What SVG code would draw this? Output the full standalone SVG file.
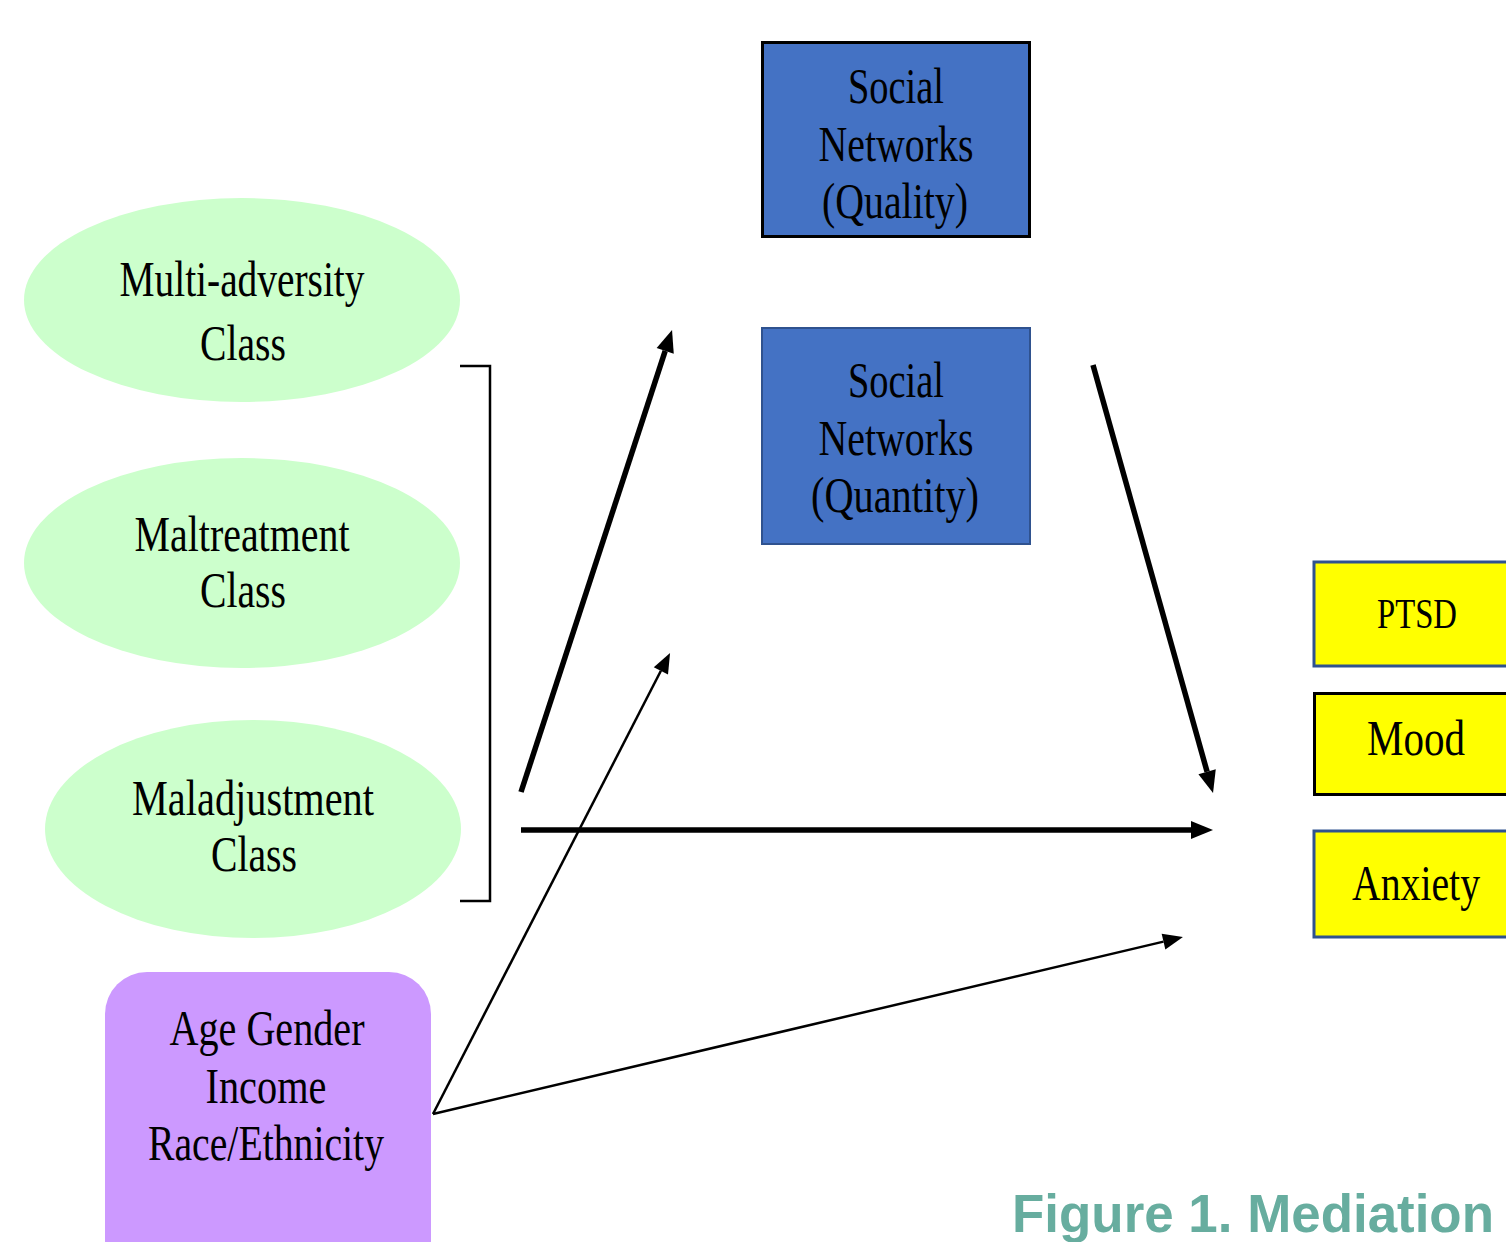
<svg xmlns="http://www.w3.org/2000/svg" width="1506" height="1242" viewBox="0 0 1506 1242">
<style>
.t{font-family:"Liberation Serif","Times New Roman",serif;font-size:50px;fill:#000;text-anchor:middle}
.ell{fill:#CCFFCC}
.blue{fill:#4472C4}
.yel{fill:#FFFF00}
.thick{stroke:#000;stroke-width:5.5;fill:none}
.thin{stroke:#000;stroke-width:2.5;fill:none}
</style>
<defs>
<marker id="hk" markerUnits="userSpaceOnUse" markerWidth="24" markerHeight="20" refX="0" refY="9" orient="auto" overflow="visible"><path d="M0,0 L22,9 L0,18 z" fill="#000"/></marker>
<marker id="hn" markerUnits="userSpaceOnUse" markerWidth="22" markerHeight="18" refX="0" refY="8" orient="auto" overflow="visible"><path d="M0,0 L20,8 L0,16 z" fill="#000"/></marker>
</defs>
<rect width="1506" height="1242" fill="#fff"/>
<g id="multi-adversity">
<ellipse class="ell" cx="242" cy="300" rx="218" ry="102"/>
<text class="t" x="242" y="296" textLength="245" lengthAdjust="spacingAndGlyphs">Multi-adversity</text>
<text class="t" x="243" y="360" textLength="86" lengthAdjust="spacingAndGlyphs">Class</text>
</g>
<g id="maltreatment">
<ellipse class="ell" cx="242" cy="563" rx="218" ry="105"/>
<text class="t" x="242" y="551" textLength="215" lengthAdjust="spacingAndGlyphs">Maltreatment</text>
<text class="t" x="243" y="607" textLength="86" lengthAdjust="spacingAndGlyphs">Class</text>
</g>
<g id="maladjustment">
<ellipse class="ell" cx="253" cy="829" rx="208" ry="109"/>
<text class="t" x="253" y="815" textLength="242" lengthAdjust="spacingAndGlyphs">Maladjustment</text>
<text class="t" x="254" y="871" textLength="86" lengthAdjust="spacingAndGlyphs">Class</text>
</g>
<g id="covariates">
<rect x="105" y="972" width="326" height="310" rx="42" fill="#CC99FF"/>
<text class="t" x="267" y="1045" textLength="195" lengthAdjust="spacingAndGlyphs">Age Gender</text>
<text class="t" x="266" y="1103" textLength="121" lengthAdjust="spacingAndGlyphs">Income</text>
<text class="t" x="266" y="1160" textLength="236" lengthAdjust="spacingAndGlyphs">Race/Ethnicity</text>
</g>
<g id="sn-quality">
<rect class="blue" x="762.5" y="42.5" width="267" height="194" stroke="#000" stroke-width="3"/>
<text class="t" x="896" y="103" textLength="96" lengthAdjust="spacingAndGlyphs">Social</text>
<text class="t" x="896" y="161" textLength="155" lengthAdjust="spacingAndGlyphs">Networks</text>
<text class="t" x="895" y="218" textLength="146" lengthAdjust="spacingAndGlyphs">(Quality)</text>
</g>
<g id="sn-quantity">
<rect class="blue" x="762" y="328" width="268" height="216" stroke="#2F528F" stroke-width="2"/>
<text class="t" x="896" y="397" textLength="96" lengthAdjust="spacingAndGlyphs">Social</text>
<text class="t" x="896" y="455" textLength="155" lengthAdjust="spacingAndGlyphs">Networks</text>
<text class="t" x="895" y="512" textLength="168" lengthAdjust="spacingAndGlyphs">(Quantity)</text>
</g>
<g id="ptsd">
<rect class="yel" x="1314" y="562" width="196" height="104" stroke="#2F528F" stroke-width="3"/>
<text class="t" x="1417" y="628" style="font-size:42px" textLength="80" lengthAdjust="spacingAndGlyphs">PTSD</text>
</g>
<g id="mood">
<rect class="yel" x="1314.5" y="693.5" width="196" height="101" stroke="#000" stroke-width="3"/>
<text class="t" x="1416" y="755" textLength="98" lengthAdjust="spacingAndGlyphs">Mood</text>
</g>
<g id="anxiety">
<rect class="yel" x="1314" y="831" width="196" height="106" stroke="#2F528F" stroke-width="3"/>
<text class="t" x="1416" y="900" textLength="128" lengthAdjust="spacingAndGlyphs">Anxiety</text>
</g>
<g id="connectors">
<path d="M460,366 H490 V901 H460" stroke="#000" stroke-width="2.5" fill="none"/>
<line class="thick" x1="521" y1="792" x2="665.2" y2="350.9" marker-end="url(#hk)"/>
<line class="thin" x1="433" y1="1114" x2="660.9" y2="670.8" marker-end="url(#hn)"/>
<line class="thick" x1="521" y1="830" x2="1191" y2="830" marker-end="url(#hk)"/>
<line class="thick" x1="1093" y1="365" x2="1207.1" y2="771.8" marker-end="url(#hk)"/>
<line class="thin" x1="433" y1="1114" x2="1163.5" y2="941.6" marker-end="url(#hn)"/>
</g>
<text x="1253" y="1232" font-family="'Liberation Sans',Arial,sans-serif" font-weight="bold" font-size="53" fill="#67AD9F" text-anchor="middle" textLength="482" lengthAdjust="spacingAndGlyphs">Figure 1. Mediation</text>
</svg>
